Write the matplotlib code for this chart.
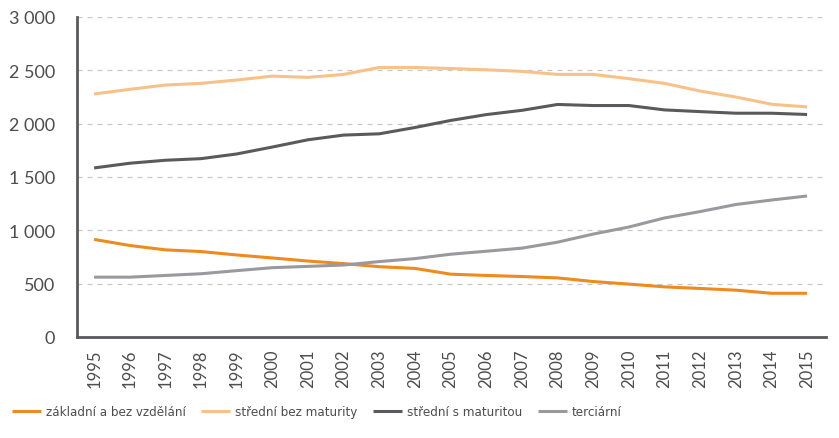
import matplotlib
matplotlib.use("Agg")
import matplotlib.pyplot as plt
from matplotlib.ticker import FuncFormatter
from matplotlib import font_manager

years = [str(y) for y in range(1995, 2016)]
zakladni = [915, 858, 817, 801, 769, 741, 712, 688, 659, 643, 589, 577, 567, 554, 520, 496, 470, 455, 439, 410, 410]
stredni_bez = [2278, 2322, 2362, 2378, 2409, 2446, 2434, 2462, 2527, 2527, 2517, 2505, 2490, 2462, 2462, 2422, 2378, 2306, 2250, 2182, 2157]
stredni_s = [1585, 1629, 1657, 1672, 1716, 1781, 1849, 1893, 1905, 1964, 2030, 2085, 2125, 2180, 2170, 2170, 2129, 2113, 2098, 2098, 2086]
terciarni = [561, 561, 577, 593, 622, 650, 662, 675, 707, 735, 776, 804, 833, 889, 965, 1031, 1116, 1176, 1242, 1284, 1322]
labels = ["základní a bez vzdělání", "střední bez maturity", "střední s maturitou", "terciární"]
colors = ["#EE8A1E", "#F8C187", "#5A5A5C", "#9A9A9E"]
yticks = [0, 500, 1000, 1500, 2000, 2500, 3000]

plt.rcParams['font.family'] = ['Lato', 'DejaVu Sans']
text_color = "#4D4D4D"

cands = [f for f in font_manager.fontManager.ttflist
         if ('ondensed' in f.fname or 'Narrow' in f.fname) and f.weight in (400, 'normal', 'regular')
         and 'Oblique' not in f.fname and 'Italic' not in f.fname]
pref = None
for key in ['LiberationSansNarrow-Regular', 'DejaVuSansCondensed.ttf', 'OpenSans_Condensed', 'Condensed']:
    for c in cands:
        if key in c.fname:
            pref = c.fname
            break
    if pref:
        break
if pref:
    legprop = font_manager.FontProperties(fname=pref, size=9.5)
else:
    legprop = font_manager.FontProperties(family='Lato', size=9)

fig = plt.figure(figsize=(8.39, 4.39), dpi=100)
ax = fig.add_axes([77/839, 1-338/439, (826-77)/839, (338-18)/439])

x = list(range(len(years)))
for series, lab, col in zip([zakladni, stredni_bez, stredni_s, terciarni], labels, colors):
    ax.plot(x, series, color=col, lw=2.2, label=lab, solid_capstyle='butt')

ax.set_xlim(-0.48, len(years) - 1 + 0.53)
ax.set_ylim(0, 3000)
ax.set_yticks(yticks)
ax.yaxis.set_major_formatter(FuncFormatter(lambda v, p: f"{int(v):,}".replace(",", " ")))
ax.set_xticks(x)
ax.set_xticklabels(years, rotation=90)
ax.tick_params(axis='both', length=0, colors=text_color)
ax.tick_params(axis='y', labelsize=13, pad=16)
ax.tick_params(axis='x', labelsize=12, pad=8)
ax.grid(axis='y', color='#C8C8C8', linestyle=(0, (4, 4)), lw=0.9)
ax.set_axisbelow(True)
for s in ['top', 'right']:
    ax.spines[s].set_visible(False)
for s in ['left', 'bottom']:
    ax.spines[s].set_color('#5A5A5C')
    ax.spines[s].set_linewidth(2)

handles, labs = ax.get_legend_handles_labels()
fig.legend(handles, labs, loc='center left', bbox_to_anchor=(0.0, 26/439), ncol=4,
           frameon=False, prop=legprop, handlelength=2.2,
           columnspacing=1.2, handletextpad=0.35, labelcolor=text_color)

fig.savefig("out.png", dpi=100)
